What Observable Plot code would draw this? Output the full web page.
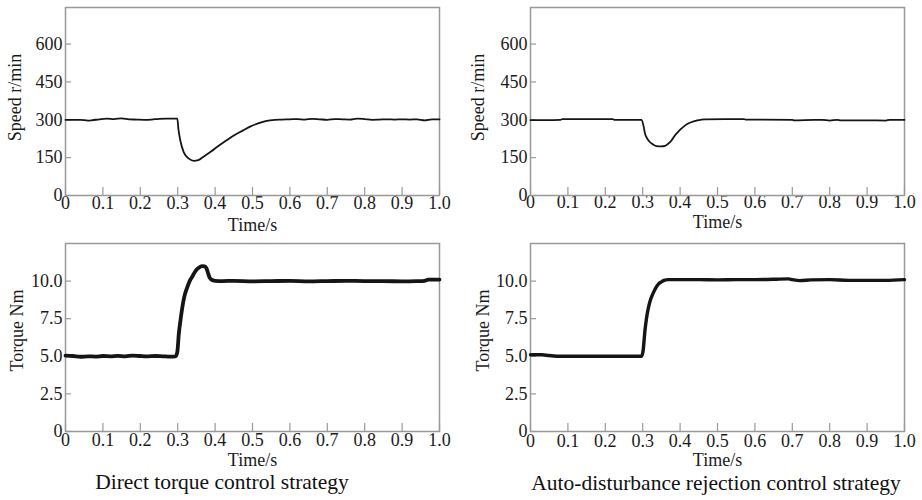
<!DOCTYPE html>
<html><head><meta charset="utf-8">
<script src="https://cdn.jsdelivr.net/npm/d3@7"></script>
<script src="https://cdn.jsdelivr.net/npm/@observablehq/plot@0.6"></script>
<style>
body{margin:0;background:#fff;}
#wrap{position:relative;width:922px;height:500px;font-family:"Liberation Serif","Times New Roman",serif;}
.panel{position:absolute;}
.cap{position:absolute;font-size:21.5px;line-height:18px;color:#111;white-space:nowrap;transform:translateX(-50%);}
</style></head><body><div id="wrap"></div>
<script>
const timeTicks = [0,0.1,0.2,0.3,0.4,0.5,0.6,0.7,0.8,0.9,1.0];
const speedTicks = [0,150,300,450,600];
const torqueTicks = [0,2.5,5,7.5,10];

const speedDTC_t = [0,0.02,0.04,0.06,0.07,0.09,0.11,0.13,0.15,0.17,0.19,0.21,0.23,0.25,0.27,0.299,0.302,0.307,0.316,0.33,0.343,0.355,0.37,0.39,0.405,0.43,0.45,0.475,0.495,0.515,0.535,0.56,0.58,0.60,0.62,0.64,0.66,0.68,0.70,0.72,0.74,0.76,0.78,0.80,0.82,0.84,0.86,0.88,0.90,0.92,0.94,0.96,0.98,1.0];
const speedDTC_v = [300,300,300,297,298,302,305,303,306,302,301,300,301,304,305,305,262,218,172,146,137,140,155,175,192,218,238,258,274,286,295,300,301,302,303,301,304,302,300,303,302,301,305,303,300,301,302,301,302,301,302,298,302,302];

const speedADRC_t = [0,0.04,0.08,0.085,0.14,0.2,0.22,0.225,0.27,0.297,0.303,0.306,0.312,0.319,0.328,0.337,0.35,0.36,0.368,0.377,0.386,0.397,0.408,0.42,0.439,0.455,0.466,0.52,0.57,0.575,0.62,0.70,0.705,0.76,0.78,0.80,0.82,0.83,0.90,0.95,0.96,1.0];
const speedADRC_v = [299,299,300,303,303,303,303,300,300,300,270,246,226,212,202,196,195,197,205,218,238,256,271,284,295,300,302,303,303,301,301,300,298,300,300,297,300,298,298,297,300,300];

const torqueDTC_t = [0,0.02,0.04,0.06,0.08,0.10,0.12,0.14,0.16,0.18,0.20,0.22,0.24,0.26,0.28,0.294,0.299,0.303,0.308,0.312,0.318,0.325,0.332,0.339,0.346,0.352,0.36,0.365,0.372,0.377,0.381,0.385,0.39,0.40,0.42,0.45,0.5,0.55,0.6,0.65,0.7,0.75,0.8,0.85,0.9,0.94,0.96,0.97,1.0];
const torqueDTC_v = [5.05,5.02,4.97,5.0,4.98,5.02,5.0,5.03,5.0,5.05,5.02,5.0,5.02,5.0,4.98,5.0,5.3,6.5,7.5,8.2,9.0,9.55,10.0,10.3,10.6,10.8,10.95,11.0,10.98,10.85,10.55,10.25,10.1,10.02,10.0,10.02,9.98,10.0,10.02,9.98,10.0,10.02,10.0,10.0,9.98,10.0,10.02,10.1,10.1];

const torqueADRC_t = [0,0.03,0.05,0.08,0.12,0.16,0.2,0.24,0.28,0.297,0.301,0.306,0.31,0.315,0.32,0.328,0.335,0.342,0.35,0.357,0.368,0.4,0.45,0.5,0.55,0.6,0.65,0.69,0.7,0.72,0.75,0.8,0.85,0.9,0.95,1.0];
const torqueADRC_v = [5.1,5.1,5.05,5.0,5.0,5.0,5.0,5.0,5.0,5.0,5.35,6.7,7.5,8.2,8.7,9.2,9.55,9.8,9.95,10.05,10.1,10.1,10.1,10.08,10.1,10.1,10.12,10.15,10.1,10.03,10.08,10.1,10.05,10.05,10.05,10.1];

const captions = ["Direct torque control strategy", "Auto-disturbance rejection control strategy"];

const toRows = (ts, vs) => ts.map((t, i) => ({t, v: vs[i]}));
const fmt1 = d => d === 0 ? "0" : d.toFixed(1);

function panel(o) {
  const plotW = 461 - o.ml - o.mr;
  return Plot.plot({
    width: 461, height: 240,
    marginLeft: o.ml, marginRight: o.mr, marginTop: 7, marginBottom: 45,
    style: {fontFamily: "'Liberation Serif', 'Times New Roman', serif", fontSize: "18px", color: "#1a1a1a", background: "transparent", overflow: "visible"},
    x: {domain: [0, 1]},
    y: {domain: o.yDomain},
    marks: [
      Plot.tickX(timeTicks, {x: d => d, insetTop: 180, stroke: "#999", strokeWidth: 1.2}),
      Plot.tickY(o.yTicks, {y: d => d, insetRight: plotW - 6, stroke: "#999", strokeWidth: 1.2}),
      Plot.axisX(timeTicks, {tickSize: 0, tickPadding: o.xPad, tickFormat: fmt1, label: null, fontSize: 18}),
      Plot.axisY(o.yTicks, {tickSize: 0, tickPadding: 3, tickFormat: o.yFmt, label: null, fontSize: 18}),
      Plot.frame({stroke: "#999", strokeWidth: 1.5}),
      Plot.lineY(o.data, {x: "t", y: "v", stroke: "#151515", strokeWidth: o.sw, curve: "monotone-x"}),
      Plot.text(["Time/s"], {frameAnchor: "bottom", lineAnchor: "middle", textAnchor: "middle", dy: o.labelDy, text: d => d, fontSize: 18}),
      Plot.text([o.yLabel], {frameAnchor: "left", lineAnchor: "middle", textAnchor: "middle", dx: o.labelDx, dy: o.yLabelDy, rotate: -90, text: d => d, fontSize: 18})
    ]
  });
}

const wrap = document.getElementById("wrap");
function place(el, left, top) {
  const d = document.createElement("div");
  d.className = "panel";
  d.style.left = left + "px";
  d.style.top = top + "px";
  d.appendChild(el);
  wrap.appendChild(d);
}

place(panel({data: toRows(speedDTC_t, speedDTC_v), yDomain: [0, 745], yTicks: speedTicks, yFmt: d => String(d), yLabel: "Speed r/min", ml: 65, mr: 22, xPad: 1, labelDy: 30, labelDx: -50, yLabelDy: -4, sw: 1.8}), 0, 0);
place(panel({data: toRows(speedADRC_t, speedADRC_v), yDomain: [0, 745], yTicks: speedTicks, yFmt: d => String(d), yLabel: "Speed r/min", ml: 69, mr: 18, xPad: 0, labelDy: 27, labelDx: -52, yLabelDy: -4, sw: 1.8}), 461, 0);
place(panel({data: toRows(torqueDTC_t, torqueDTC_v), yDomain: [0, 12.5], yTicks: torqueTicks, yFmt: fmt1, yLabel: "Torque Nm", ml: 65, mr: 22, xPad: 2, labelDy: 29, labelDx: -48, yLabelDy: -7, sw: 3.8}), 0, 236);
place(panel({data: toRows(torqueADRC_t, torqueADRC_v), yDomain: [0, 12.5], yTicks: torqueTicks, yFmt: fmt1, yLabel: "Torque Nm", ml: 69, mr: 18, xPad: 3, labelDy: 29, labelDx: -47, yLabelDy: -7, sw: 3.4}), 461, 236);

const c1 = document.createElement("div"); c1.className = "cap"; c1.style.left = "222px"; c1.style.top = "473px"; c1.textContent = captions[0]; wrap.appendChild(c1);
const c2 = document.createElement("div"); c2.className = "cap"; c2.style.left = "716px"; c2.style.top = "474px"; c2.textContent = captions[1]; wrap.appendChild(c2);
</script>
</body></html>
